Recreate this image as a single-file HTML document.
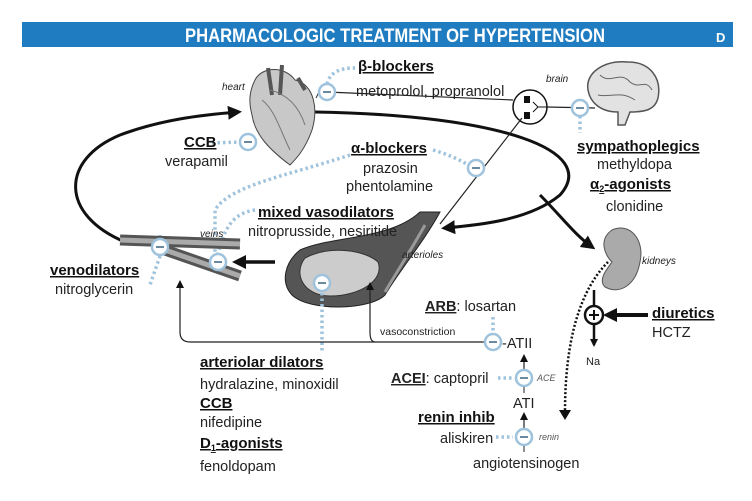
<!DOCTYPE html>
<html><head><meta charset="utf-8"><style>
html,body{margin:0;padding:0;background:#fff;}
svg{display:block;font-family:"Liberation Sans",sans-serif;}
.t{font-size:14.5px;fill:#222;}
.b{font-size:15px;font-weight:bold;fill:#111;text-decoration:underline;}
.i{font-size:10px;font-style:italic;fill:#222;}
.m{fill:#fff;stroke:#9fc3dc;stroke-width:2.5;}
.dot{fill:none;stroke:#9fc3dc;stroke-width:3.5;stroke-dasharray:2.5 3;}
</style></head><body>
<svg width="752" height="501" viewBox="0 0 752 501" xmlns="http://www.w3.org/2000/svg">
<defs>
<marker id="a" markerWidth="8" markerHeight="8" refX="6" refY="4" orient="auto" markerUnits="userSpaceOnUse"><path d="M0,0 L8,4 L0,8z" fill="#111"/></marker>
<marker id="A" markerWidth="14" markerHeight="14" refX="10" refY="7" orient="auto" markerUnits="userSpaceOnUse"><path d="M0,0 L14,7 L0,14z" fill="#111"/></marker>
<symbol id="minus" viewBox="-10 -10 20 20"><circle r="8" class="m"/><rect x="-4" y="-1" width="8" height="2" fill="#6a8aa0"/></symbol>
</defs>
<rect x="22" y="22" width="711" height="25" fill="#1f7cc0"/>
<text x="395" y="42" text-anchor="middle" fill="#fff" font-weight="bold" font-size="19" textLength="420" lengthAdjust="spacingAndGlyphs">PHARMACOLOGIC TREATMENT OF HYPERTENSION</text>
<text x="716" y="42" fill="#fff" font-weight="bold" font-size="13">D</text>

<!-- loops -->
<path d="M315,112 C500,115 600,150 560,195 C530,220 480,225 445,228" fill="none" stroke="#111" stroke-width="3" marker-end="url(#A)"/>
<path d="M540,195 C560,215 575,235 592,247" fill="none" stroke="#111" stroke-width="3" marker-end="url(#A)"/>
<path d="M125,242 C60,215 60,160 120,135 C160,120 200,115 238,112" fill="none" stroke="#111" stroke-width="3" marker-end="url(#A)"/>

<!-- heart -->
<path d="M255,80 C262,66 285,66 295,80 C315,85 318,110 312,130 C305,150 295,160 290,165 C270,150 255,135 252,115 C248,100 250,90 255,80z" fill="#c8c8c8" stroke="#444"/>
<path d="M268,68 L272,95 M282,65 L280,95 M298,78 L305,90" stroke="#555" stroke-width="4"/>
<path d="M262,100 C275,110 280,130 290,150 M270,90 C290,95 300,110 305,125" stroke="#777" fill="none"/>
<text x="222" y="90" class="i">heart</text>

<!-- beta blockers -->
<path d="M319,92 L324,98 M319,92 L316,98" stroke="#333" fill="none"/>
<line x1="327" y1="92" x2="513" y2="100" stroke="#222" stroke-width="1.2"/>
<path d="M327,84 C330,72 340,68 355,68" class="dot"/>
<use href="#minus" x="317" y="82" width="20" height="20"/>
<text x="358" y="71" class="b">β-blockers</text>
<text x="356" y="96" class="t">metoprolol, propranolol</text>

<!-- synapse & brain -->
<circle cx="530" cy="107" r="17" fill="#fff" stroke="#111" stroke-width="1.5"/>
<rect x="524" y="96" width="6" height="7" fill="#111"/><rect x="524" y="112" width="6" height="7" fill="#111"/>
<path d="M533,102 L538,107 L533,112 M538,107 L547,107" stroke="#111" fill="none"/>
<line x1="547" y1="107" x2="595" y2="108" stroke="#222" stroke-width="1.2"/>
<text x="546" y="82" class="i">brain</text>
<path d="M588,90 C585,72 605,60 628,62 C650,62 662,78 658,98 C655,110 645,112 630,112 L625,125 L618,125 L618,112 C600,112 590,102 588,90z" fill="#e2e2e2" stroke="#555" stroke-width="1.5"/>
<path d="M600,75 C610,85 620,70 630,82 C640,90 645,78 652,90 M598,95 C610,98 620,90 635,100" stroke="#666" fill="none"/>
<path d="M580,116 L580,133" class="dot"/>
<use href="#minus" x="570" y="98" width="20" height="20"/>
<text x="577" y="151" class="b">sympathoplegics</text>
<text x="597" y="169" class="t">methyldopa</text>
<text x="590" y="189" class="b">α<tspan font-size="9" dy="3">2</tspan><tspan dy="-3">-agonists</tspan></text>
<text x="606" y="211" class="t">clonidine</text>

<!-- CCB verapamil -->
<path d="M212,143 L240,142" class="dot"/>
<use href="#minus" x="238" y="132" width="20" height="20"/>
<text x="184" y="147" class="b">CCB</text>
<text x="165" y="166" class="t">verapamil</text>

<!-- alpha blockers -->
<line x1="522" y1="118" x2="440" y2="224" stroke="#222" stroke-width="1.2"/>
<path d="M433,150 C450,155 460,160 470,166" class="dot"/>
<path d="M350,155 C290,175 230,185 215,210 L215,255" class="dot"/>
<use href="#minus" x="466" y="158" width="20" height="20"/>
<text x="351" y="153" class="b">α-blockers</text>
<text x="363" y="173" class="t">prazosin</text>
<text x="346" y="191" class="t">phentolamine</text>

<!-- mixed vasodilators dotted -->
<path d="M255,210 C240,212 225,220 218,255" class="dot"/>
<path d="M160,235 L160,240 M160,256 L150,285" class="dot"/>
<text x="200" y="237" class="i">veins</text>

<!-- veins -->
<path d="M120,240 L240,244" stroke="#555" stroke-width="11"/>
<path d="M120,240 L240,244" stroke="#aaa" stroke-width="5"/>
<path d="M165,250 L240,276" stroke="#555" stroke-width="11"/>
<path d="M165,250 L240,276" stroke="#aaa" stroke-width="5"/>
<use href="#minus" x="150" y="237" width="20" height="20"/>
<use href="#minus" x="208" y="252" width="20" height="20"/>
<line x1="275" y1="262" x2="236" y2="262" stroke="#111" stroke-width="3.5" marker-end="url(#A)"/>
<text x="50" y="275" class="b">venodilators</text>
<text x="55" y="294" class="t">nitroglycerin</text>

<!-- arterioles -->
<path d="M300,250 C330,236 390,240 420,212 L440,212 C425,240 400,270 385,295 C370,310 310,312 292,295 C280,282 285,262 300,250z" fill="#555" stroke="#222"/>
<path d="M305,258 C330,245 365,250 378,262 C385,280 360,296 330,296 C305,296 292,275 305,258z" fill="#ccc" stroke="#333"/>
<path d="M425,225 C408,255 395,275 385,292" stroke="#999" stroke-width="3" fill="none"/>
<use href="#minus" x="312" y="273" width="20" height="20"/>
<path d="M322,293 L322,352" class="dot"/>
<text x="402" y="258" class="i">arterioles</text>
<text x="258" y="217" class="b">mixed vasodilators</text>
<text x="248" y="236" class="t">nitroprusside, nesiritide</text>

<!-- ATII pathway -->
<path d="M485,342 L190,342 Q180,342 180,332 L180,282" fill="none" stroke="#222" stroke-width="1.2" marker-end="url(#a)"/>
<path d="M375,342 Q370,342 370,332 L370,284" fill="none" stroke="#222" stroke-width="1.2" marker-end="url(#a)"/>
<text x="380" y="335" font-size="10.5" fill="#222">vasoconstriction</text>
<path d="M493,317 L493,334" class="dot"/>
<use href="#minus" x="483" y="332" width="20" height="20"/>
<text x="425" y="311" class="t"><tspan font-weight="bold" text-decoration="underline">ARB</tspan>: losartan</text>
<text x="502" y="348" class="t">-ATII</text>
<line x1="524" y1="369" x2="524" y2="356" stroke="#222" stroke-width="1.2" marker-end="url(#a)"/>
<path d="M498,378 L513,378" class="dot"/>
<use href="#minus" x="514" y="368" width="20" height="20"/>
<text x="391" y="383" class="t"><tspan font-weight="bold" text-decoration="underline">ACEI</tspan>: captopril</text>
<text x="537" y="381" font-size="9" font-style="italic" fill="#555">ACE</text>
<line x1="524" y1="387" x2="524" y2="393" stroke="#222"/>
<text x="513" y="408" class="t">ATI</text>
<line x1="524" y1="428" x2="524" y2="414" stroke="#222" stroke-width="1.2" marker-end="url(#a)"/>
<text x="418" y="422" class="b">renin inhib</text>
<path d="M496,437 L513,437" class="dot"/>
<use href="#minus" x="514" y="427" width="20" height="20"/>
<text x="440" y="443" class="t">aliskiren</text>
<text x="539" y="440" font-size="9" font-style="italic" fill="#555">renin</text>
<line x1="524" y1="446" x2="524" y2="452" stroke="#222"/>
<text x="473" y="468" class="t">angiotensinogen</text>

<!-- kidney -->
<path d="M612,230 C630,222 645,240 640,262 C636,285 620,295 605,287 C598,280 606,270 612,262 C605,255 598,240 612,230z" fill="#aaa" stroke="#555"/>
<text x="642" y="264" class="i">kidneys</text>
<path d="M608,262 C580,290 565,340 565,412" fill="none" stroke="#111" stroke-width="2.5" stroke-dasharray="2 2"/>
<path d="M559,410 L565,420 L571,410z" fill="#111"/>
<line x1="594" y1="290" x2="594" y2="345" stroke="#111" stroke-width="2.5" marker-end="url(#a)"/>
<circle cx="594" cy="315" r="9" fill="#fff" stroke="#111" stroke-width="2.5"/>
<path d="M589,315 H599 M594,310 V320" stroke="#111" stroke-width="2"/>
<line x1="648" y1="315" x2="607" y2="315" stroke="#111" stroke-width="4" marker-end="url(#A)"/>
<text x="652" y="318" class="b">diuretics</text>
<text x="652" y="337" class="t">HCTZ</text>
<text x="586" y="365" font-size="11" fill="#222">Na</text>

<!-- arteriolar dilators -->
<text x="200" y="367" class="b">arteriolar dilators</text>
<text x="200" y="389" class="t">hydralazine, minoxidil</text>
<text x="200" y="408" class="b">CCB</text>
<text x="200" y="427" class="t">nifedipine</text>
<text x="200" y="448" class="b">D<tspan font-size="9" dy="3">1</tspan><tspan dy="-3">-agonists</tspan></text>
<text x="200" y="471" class="t">fenoldopam</text>
</svg>
</body></html>
